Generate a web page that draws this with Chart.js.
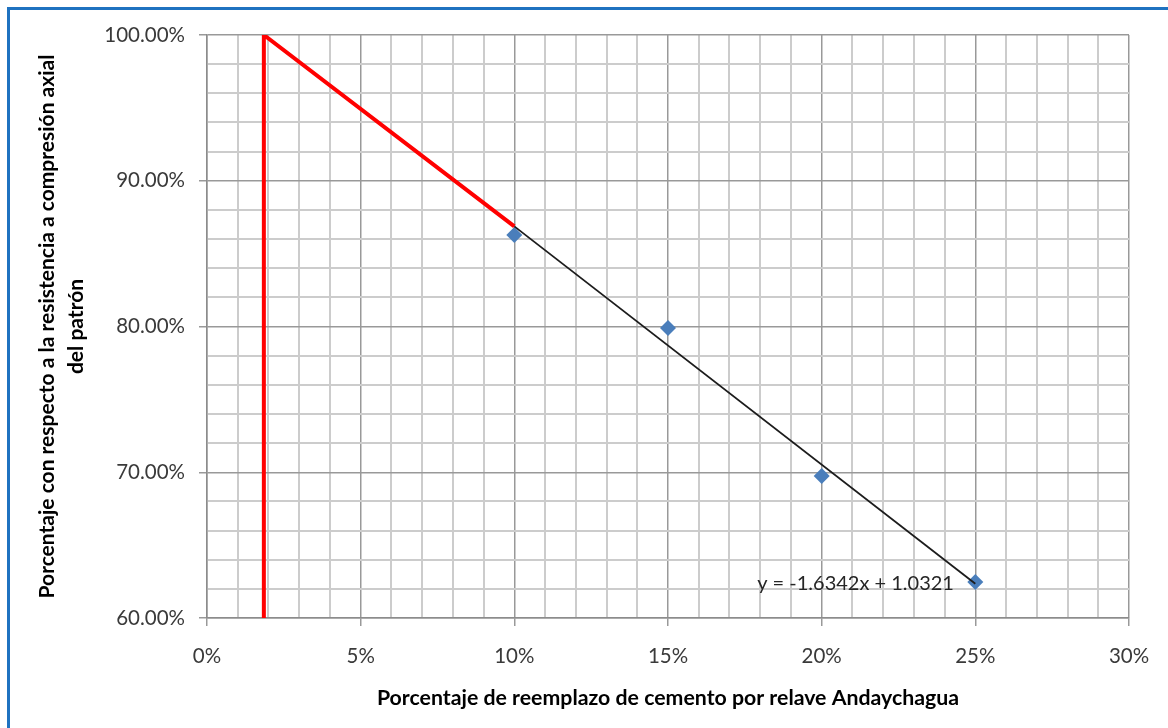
<!DOCTYPE html>
<html>
<head>
<meta charset="utf-8">
<script src="https://cdn.jsdelivr.net/npm/chart.js@4.4.1/dist/chart.umd.min.js"></script>
<style>
  html, body { margin: 0; padding: 0; background: #ffffff; width: 1168px; height: 728px; overflow: hidden; }
  #frame { position: absolute; left: 7px; top: 7px; width: 1200px; height: 760px;
           border-left: 3px solid #1F72C0; border-top: 3px solid #1F72C0; }
  #wrap { position: absolute; left: 0; top: 0; width: 1168px; height: 728px; }
</style>
</head>
<body>
<div id="frame"></div>
<div id="wrap"><canvas id="chart" width="1168" height="728"></canvas></div>
<script>
// Measured specimens: cement replacement by tailings vs. relative axial strength
const replacementPct = [0.10, 0.15, 0.20, 0.25];
const strengthRatio  = [0.8628, 0.7990, 0.6974, 0.6247];

// Linear fit reported on the chart
const trendSlope = -1.6342;
const trendIntercept = 1.0321;
const trendFrom = 0.10;
const trendTo = 0.25;
const trendLabel = 'y = -1.6342x + 1.0321';

// Red limit guide (vertical drop and its run along the fit)
const limitX = [0.0185, 0.0185, 0.10];
const limitY = [0.60, 1.00, 0.8687];

// Axis ticks
const xTickValues = [0, 0.05, 0.10, 0.15, 0.20, 0.25, 0.30];
const xTickLabels = ['0%', '5%', '10%', '15%', '20%', '25%', '30%'];
const yTickValues = [0.60, 0.70, 0.80, 0.90, 1.00];
const yTickLabels = ['60.00%', '70.00%', '80.00%', '90.00%', '100.00%'];

const xTitle = 'Porcentaje de reemplazo de cemento por relave Andaychagua';
const yTitle = ['Porcentaje con respecto a la resistencia a compresión axial', 'del patrón'];

const findIdx = (list, v) => list.findIndex(t => Math.abs(t - v) < 1e-6);
const tickText = (vals, labels) => v => { const i = findIdx(vals, v); return i < 0 ? '' : labels[i]; };
const isMajor = vals => c => !!c.tick && findIdx(vals, c.tick.value) >= 0;

const MINOR = '#cccccc', MAJOR = '#999999';

const fitAt = x => trendIntercept + trendSlope * x;

const equationLabel = {
  id: 'equationLabel',
  afterDatasetsDraw(chart) {
    const { ctx, scales: { x, y } } = chart;
    ctx.save();
    ctx.font = '20px Lato';
    ctx.fillStyle = '#262626';
    ctx.textAlign = 'left';
    ctx.textBaseline = 'middle';
    ctx.fillText(trendLabel, x.getPixelForValue(0.179), y.getPixelForValue(0.6233));
    ctx.restore();
  }
};

new Chart(document.getElementById('chart'), {
  type: 'scatter',
  data: {
    datasets: [
      {
        label: 'Límite',
        data: limitX.map((v, i) => ({ x: v, y: limitY[i] })),
        showLine: true,
        borderColor: '#FF0000',
        borderWidth: 4,
        pointRadius: 0,
        tension: 0
      },
      {
        label: 'Lineal',
        data: [trendFrom, trendTo].map(v => ({ x: v, y: fitAt(v) })),
        showLine: true,
        borderColor: '#1c1c1c',
        borderWidth: 1.8,
        pointRadius: 0,
        tension: 0
      },
      {
        label: 'Ensayos',
        data: replacementPct.map((v, i) => ({ x: v, y: strengthRatio[i] })),
        showLine: false,
        pointStyle: 'rectRot',
        pointRadius: 8,
        backgroundColor: '#4A7EBB',
        borderColor: '#4A7EBB',
        borderWidth: 0
      }
    ]
  },
  options: {
    responsive: false,
    animation: false,
    events: [],
    layout: { padding: { left: 0, top: 35, right: 39, bottom: 0 } },
    plugins: { legend: { display: false }, tooltip: { enabled: false } },
    scales: {
      x: {
        type: 'linear',
        position: 'bottom',
        min: 0,
        max: 0.30,
        afterFit: s => { s.height = 110; },
        ticks: {
          stepSize: 0.01,
          autoSkip: false,
          maxRotation: 0,
          padding: 18,
          color: '#3a3a3a',
          font: { family: 'Lato', size: 20.5 },
          callback: tickText(xTickValues, xTickLabels)
        },
        grid: {
          color: c => isMajor(xTickValues)(c) ? MAJOR : MINOR,
          lineWidth: c => isMajor(xTickValues)(c) ? 1.5 : 2,
          tickColor: c => isMajor(xTickValues)(c) ? MAJOR : 'rgba(0,0,0,0)',
          tickLength: 8,
          tickWidth: 1.5
        },
        border: { color: '#8c8c8c', width: 1.5 },
        title: {
          display: true,
          text: xTitle,
          color: '#000000',
          font: { family: 'Lato', size: 21.3, weight: 'bold', lineHeight: 1.2 },
          padding: { top: 4, bottom: 17 }
        }
      },
      y: {
        type: 'linear',
        min: 0.60,
        max: 1.00,
        afterFit: s => { s.width = 207; },
        ticks: {
          stepSize: 0.02,
          autoSkip: false,
          padding: 14,
          color: '#3a3a3a',
          font: { family: 'Lato', size: 20.5 },
          callback: tickText(yTickValues, yTickLabels)
        },
        grid: {
          color: c => isMajor(yTickValues)(c) ? MAJOR : MINOR,
          lineWidth: c => isMajor(yTickValues)(c) ? 1.5 : 2,
          tickColor: c => isMajor(yTickValues)(c) ? MAJOR : 'rgba(0,0,0,0)',
          tickLength: 8,
          tickWidth: 1.5
        },
        border: { color: '#8c8c8c', width: 1.5 },
        title: {
          display: true,
          text: yTitle,
          color: '#000000',
          font: { family: 'Lato', size: 21, weight: 'bold', lineHeight: 1.38 },
          padding: { top: 32.5, bottom: 4 }
        }
      }
    }
  },
  plugins: [equationLabel]
});
</script>
</body>
</html>
